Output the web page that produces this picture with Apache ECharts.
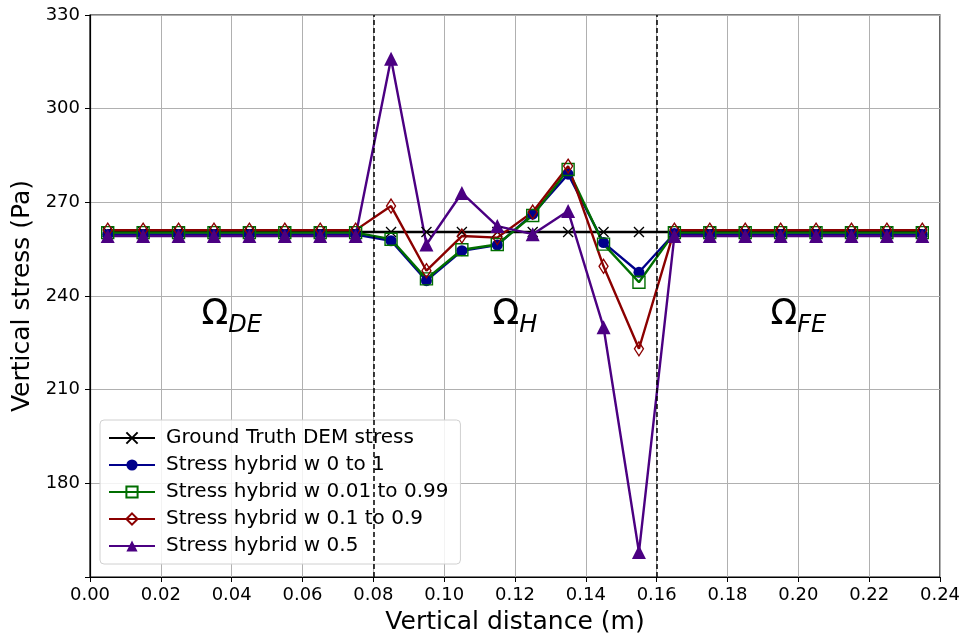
<!DOCTYPE html>
<html><head><meta charset="utf-8">
<script src="https://cdn.jsdelivr.net/npm/echarts@6/dist/echarts.min.js"></script>
<style>html,body{margin:0;padding:0;background:#fff}#c{width:968px;height:639px}</style>
</head><body><div id="c"></div>
<script>
const xPositions = [0.005,0.015,0.025,0.035,0.045,0.055,0.065,0.075,0.085,0.095,0.105,0.115,0.125,0.135,0.145,0.155,0.165,0.175,0.185,0.195,0.205,0.215,0.225,0.235];
const groundTruth = [260.5,260.5,260.5,260.5,260.5,260.5,260.5,260.5,260.5,260.5,260.5,260.5,260.5,260.5,260.5,260.5,260.5,260.5,260.5,260.5,260.5,260.5,260.5,260.5];
const hybrid0to1 = [259.7,259.7,259.7,259.7,259.7,259.7,259.7,259.7,257.7,244.9,254.5,256.3,266.2,279.0,257.1,247.6,260.0,259.7,259.7,259.7,259.7,259.7,259.7,259.7];
const hybrid001to099 = [260.3,260.3,260.3,260.3,260.3,260.3,260.3,260.3,258.2,245.5,254.8,256.5,265.8,280.5,256.6,244.4,260.3,260.3,260.3,260.3,260.3,260.3,260.3,260.3];
const hybrid01to09 = [261.1,261.1,261.1,261.1,261.1,261.1,261.1,261.1,268.8,248.1,259.2,258.7,266.9,281.6,249.5,223.1,261.1,261.1,261.1,261.1,261.1,261.1,261.1,261.1];
const hybrid05 = [259.2,259.2,259.2,259.2,259.2,259.2,259.2,259.2,316.0,256.5,273.0,262.4,259.8,267.2,230.0,158.0,259.2,259.2,259.2,259.2,259.2,259.2,259.2,259.2];
const seriesNames = ['Ground Truth DEM stress','Stress hybrid w 0 to 1','Stress hybrid w 0.01 to 0.99','Stress hybrid w 0.1 to 0.9','Stress hybrid w 0.5'];
const regionBounds = [0.08, 0.16];
const regionLabels = [{x:0.04, y:234, main:'Ω', sub:'DE'},{x:0.12, y:234, main:'Ω', sub:'H'},{x:0.2, y:234, main:'Ω', sub:'FE'}];
const xTicks = {min:0, max:0.24, interval:0.02};
const yTicks = {min:150, max:330, interval:30};

const FONT = 'DejaVu Sans';
function pairs(vals){ return xPositions.map((x,i)=>[x, vals[i]]); }
const crossPath = 'path://M0,0L10,10M10,0L0,10';

function lineSeries(name, vals, color, symbol, size, filled, extra){
  return Object.assign({
    name, type:'line', data:pairs(vals), symbol, symbolSize:size, showSymbol:true,
    lineStyle:{color, width:2.4},
    itemStyle:{color: filled ? color : 'rgba(255,255,255,0)', borderColor:color, borderWidth: filled?0:1.4},
    emphasis:{disabled:true}, animation:false
  }, extra||{});
}

const chart = echarts.init(document.getElementById('c'), null, {renderer:'canvas'});
const option = {
  backgroundColor:'#fff',
  animation:false,
  grid:{left:90, right:28, top:15, bottom:62, outerBoundsMode:'none', containLabel:false, show:true, borderColor:'#000', borderWidth:1.2, backgroundColor:'transparent'},
  xAxis:{type:'value', min:xTicks.min, max:xTicks.max, interval:xTicks.interval,
    name:'Vertical distance (m)', nameLocation:'middle', nameGap:33,
    nameTextStyle:{fontFamily:FONT, fontSize:25, color:'#000'},
    axisLine:{show:true, onZero:false, lineStyle:{color:'#000', width:1.2}},
    axisTick:{show:true, inside:false, length:5, lineStyle:{color:'#000'}},
    axisLabel:{fontFamily:FONT, fontSize:18, color:'#000', margin:9, formatter:v=>v.toFixed(2)},
    splitLine:{show:true, lineStyle:{color:'#b0b0b0', width:1}}},
  yAxis:{type:'value', min:yTicks.min, max:yTicks.max, interval:yTicks.interval,
    name:'Vertical stress (Pa)', nameLocation:'middle', nameGap:52,
    nameTextStyle:{fontFamily:FONT, fontSize:25, color:'#000'},
    axisLine:{show:true, onZero:false, lineStyle:{color:'#000', width:1.2}},
    axisTick:{show:true, inside:false, length:5, lineStyle:{color:'#000'}},
    axisLabel:{fontFamily:FONT, fontSize:18, color:'#000', margin:10, formatter:v=> v===yTicks.min ? '' : String(v)},
    splitLine:{show:true, lineStyle:{color:'#b0b0b0', width:1}}},
  legend:{orient:'vertical', left:100, top:420, itemWidth:46, itemHeight:14, itemGap:7,
    padding:[8,12,8,8], backgroundColor:'rgba(255,255,255,0.85)', borderColor:'#d0d0d0', borderWidth:1, borderRadius:4,
    textStyle:{fontFamily:FONT, fontSize:20, color:'#000', padding:[0,0,0,6]}, data:seriesNames},
  series:[
    lineSeries(seriesNames[0], groundTruth, '#000000', crossPath, 10, false, {
      itemStyle:{color:'rgba(0,0,0,0)', borderColor:'#000', borderWidth:1.3},
      markLine:{silent:true, symbol:['none','none'], label:{show:false},
        lineStyle:{color:'#000', type:[5,3], width:1.5},
        data: regionBounds.map(b=>({xAxis:b}))},
      markPoint:{silent:true, symbol:'circle', symbolSize:0,
        data: regionLabels.map(r=>({coord:[r.x, r.y], value:r.main,
          label:{show:true, position:'inside', formatter:'{m|'+r.main+'}{s|'+r.sub+'}',
            rich:{m:{fontFamily:FONT, fontSize:35, color:'#000', verticalAlign:'bottom'},
                  s:{fontFamily:FONT, fontSize:24, fontStyle:'italic', color:'#000', verticalAlign:'bottom', padding:[0,0,-6,0]}}}}))}
    }),
    lineSeries(seriesNames[1], hybrid0to1, '#00008B', 'circle', 11, true),
    lineSeries(seriesNames[2], hybrid001to099, '#006e00', 'rect', 12, false),
    lineSeries(seriesNames[3], hybrid01to09, '#8B0000', 'diamond', [9,14], false),
    lineSeries(seriesNames[4], hybrid05, '#4B0082', 'triangle', 14, true)
  ]
};
chart.setOption(option);
</script></body></html>
